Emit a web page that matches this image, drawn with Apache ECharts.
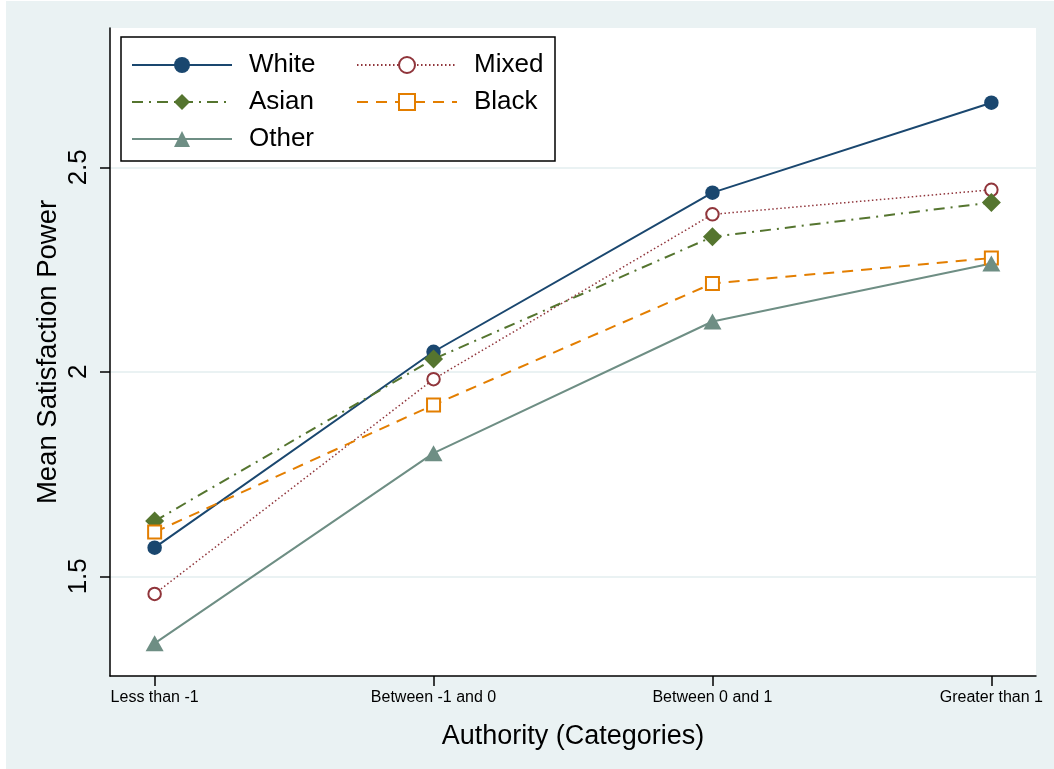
<!DOCTYPE html>
<html>
<head>
<meta charset="utf-8">
<script src="https://cdn.jsdelivr.net/npm/echarts@6/dist/echarts.min.js"></script>
<style>
html,body{margin:0;padding:0;background:#ffffff;}
#chart{position:absolute;left:6px;top:1px;width:1048px;height:768px;}
</style>
</head>
<body>
<div id="chart"></div>
<script>
// ---- data ----
const categories = ["Less than -1", "Between -1 and 0", "Between 0 and 1", "Greater than 1"];
const white = [1.570, 2.049, 2.438, 2.658];
const mixed = [1.457, 1.982, 2.385, 2.445];
const asian = [1.635, 2.031, 2.330, 2.414];
const black = [1.608, 1.919, 2.216, 2.278];
const other = [1.336, 1.801, 2.123, 2.265];
const yTicks = [1.5, 2, 2.5];
const yTickLabels = ["1.5", "2", "2.5"];

const FONT = "'Liberation Sans', Arial, Helvetica, sans-serif";
const toPts = arr => arr.map((v, i) => [i + 1, v]);

const chart = echarts.init(document.getElementById('chart'));

function mkSeries(name, data, color, symbol, size, lineType, width, empty) {
  return {
    name: name,
    type: 'line',
    data: toPts(data),
    symbol: symbol,
    symbolSize: size,
    showAllSymbol: true,
    lineStyle: { color: color, width: width, type: lineType, cap: 'butt' },
    itemStyle: empty ? { color: color, borderColor: color, borderWidth: 2.2 } : { color: color, borderWidth: 0 },
    emphasis: { disabled: true },
    z: 3,
    animation: false
  };
}

const legendCommon = {
  orient: 'vertical',
  padding: 0,
  itemWidth: 100,
  itemHeight: 20,
  itemGap: 11,
  textStyle: { fontFamily: FONT, fontSize: 26, color: '#000', padding: [0, 0, 0, 12] },
  selectedMode: false
};

const option = {
  backgroundColor: '#eaf2f3',
  animation: false,
  grid: {
    left: 104, right: 18, top: 27, bottom: 93,
    show: true, backgroundColor: '#ffffff', borderWidth: 0
  },
  legend: [
    Object.assign({}, legendCommon, { data: ['White', 'Asian', 'Other'], left: 125, top: 51 }),
    Object.assign({}, legendCommon, { data: ['Mixed', 'Black'], left: 350, top: 51 })
  ],
  graphic: [
    { type: 'rect', shape: { x: 115, y: 36, width: 434, height: 124 },
      style: { fill: 'none', stroke: '#000', lineWidth: 1.5 }, z: 10, silent: true }
  ],
  xAxis: {
    type: 'value',
    min: 0.840, max: 4.160,
    axisLine: { show: true, onZero: false, lineStyle: { color: '#000', width: 1.5 } },
    axisTick: { show: true, length: 10, lineStyle: { color: '#000', width: 1.5 }, customValues: [1, 2, 3, 4] },
    axisLabel: {
      customValues: [1, 2, 3, 4],
      formatter: v => categories[Math.round(v) - 1],
      fontFamily: FONT, fontSize: 16, color: '#000', margin: 14
    },
    splitLine: { show: false },
    name: 'Authority (Categories)',
    nameLocation: 'middle',
    nameGap: 47,
    nameMoveOverlap: false,
    nameTextStyle: { fontFamily: FONT, fontSize: 27, color: '#000' }
  },
  yAxis: {
    type: 'value',
    min: 1.2562, max: 2.8406,
    axisLine: { show: true, onZero: false, lineStyle: { color: '#000', width: 1.5 } },
    axisTick: { show: true, length: 10, lineStyle: { color: '#000', width: 1.5 }, customValues: yTicks },
    axisLabel: {
      customValues: yTicks,
      formatter: v => yTickLabels[yTicks.indexOf(v)] !== undefined ? yTickLabels[yTicks.indexOf(v)] : String(v),
      rotate: 90,
      fontFamily: FONT, fontSize: 26, color: '#000', margin: 18
    },
    splitLine: { show: true, lineStyle: { color: '#eaf2f3', width: 2 } },
    name: 'Mean Satisfaction Power',
    nameLocation: 'middle',
    nameGap: 48,
    nameMoveOverlap: false,
    nameTextStyle: { fontFamily: FONT, fontSize: 27.5, color: '#000' }
  },
  series: [
    mkSeries('White', white, '#1a476f', 'circle', 14.5, 'solid', 2, false),
    mkSeries('Mixed', mixed, '#90353b', 'emptyCircle', 12.5, [1.5, 2.5], 1.5, true),
    mkSeries('Asian', asian, '#55752f', 'diamond', 19, [11, 6, 2, 6], 2, false),
    mkSeries('Black', black, '#e37e00', 'emptyRect', 13, [11, 8], 2, true),
    mkSeries('Other', other, '#6e8e84', 'triangle', [18, 16], 'solid', 2, false)
  ]
};
chart.setOption(option);
</script>
</body>
</html>
